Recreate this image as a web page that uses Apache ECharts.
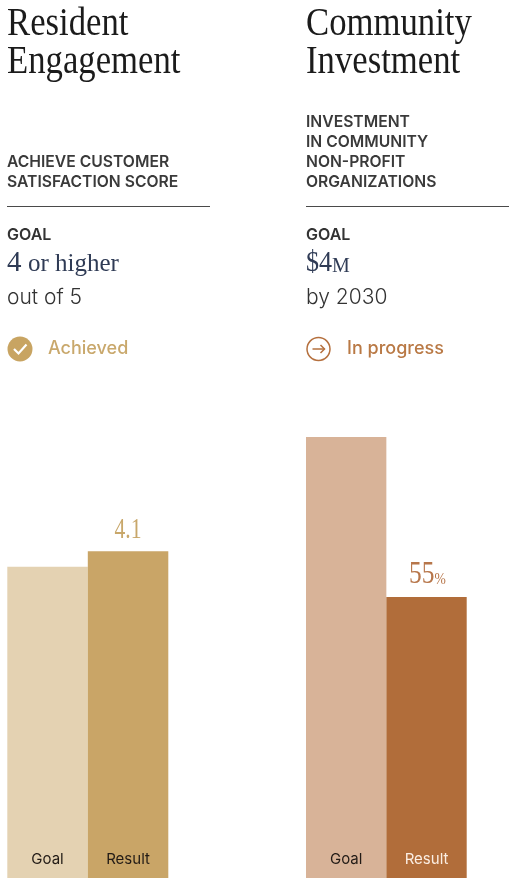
<!DOCTYPE html>
<html>
<head>
<meta charset="utf-8">
<script src="https://cdn.jsdelivr.net/npm/echarts@6/dist/echarts.min.js"></script>
<style>
html,body{margin:0;padding:0;background:#ffffff;}
#chart{width:520px;height:891px;}
</style>
</head>
<body>
<div id="chart"></div>
<script>
// ---- data ----
const categories = ['Goal', 'Result'];
const engagementValues = [4, 4.1];      // customer satisfaction score (out of 5)
const investmentValues = [100, 55];     // % of the $4M goal invested

// ---- styles ----
const SERIF = "'Liberation Serif', 'Times New Roman', serif";
const SANS = "Inter, 'Liberation Sans', Arial, sans-serif";
const engagementColors = ['#e4d2b2', '#c9a567'];
const investmentColors = ['#d8b398', '#b16d3a'];
const engagementCatText = ['#221b16', '#221b16'];
const investmentCatText = ['#221b16', '#fbeee3'];

const chart = echarts.init(document.getElementById('chart'), null, { renderer: 'canvas' });

function txt(x, y, text, font, fill, extra) {
  return Object.assign({
    type: 'text', x: x, y: y, silent: true,
    style: {
      text: text, x: 0, y: 0, font: font, fill: fill,
      align: 'left', verticalAlign: 'middle', textAlign: 'left', textVerticalAlign: 'middle'
    }
  }, extra || {});
}

function makeRenderer(yMin, colors, catColors, valueParts) {
  return function (params, api) {
    const idx = api.value(0);
    const val = api.value(1);
    const top = api.coord([idx, val]);
    const base = api.coord([idx, yMin]);
    const w = api.size([1, 0])[0];
    const cx = top[0];
    const children = [
      { type: 'rect', shape: { x: cx - w / 2, y: top[1], width: w, height: base[1] - top[1] },
        style: { fill: colors[idx] } },
      { type: 'text', x: cx, y: base[1] - 18.5,
        style: { text: categories[idx], x: 0, y: 0, font: '400 15px ' + SANS, fill: catColors[idx],
          align: 'center', verticalAlign: 'middle', textAlign: 'center', textVerticalAlign: 'middle' } }
    ];
    if (idx === 1) {
      valueParts(val, cx, top[1]).forEach(function (c) { children.push(c); });
    }
    return { type: 'group', children: children };
  };
}

function engagementLabel(val, cx, topY) {
  return [{ type: 'text', x: cx, y: topY - 21, scaleX: 0.72,
    style: { text: String(val), x: 0, y: 0, font: '30px ' + SERIF, fill: '#c8a76a',
      align: 'center', verticalAlign: 'middle', textAlign: 'center', textVerticalAlign: 'middle' } }];
}
function investmentLabel(val, cx, topY) {
  return [
    { type: 'text', x: cx + 8, y: topY - 22.5, scaleX: 0.82,
      style: { text: String(val), x: 0, y: 0, font: '31px ' + SERIF, fill: '#b7764a',
        align: 'right', verticalAlign: 'middle', textAlign: 'right', textVerticalAlign: 'middle' } },
    { type: 'text', x: cx + 8, y: topY - 17.7, scaleX: 0.8,
      style: { text: '%', x: 0, y: 0, font: '17px ' + SERIF, fill: '#b7764a',
        align: 'left', verticalAlign: 'middle', textAlign: 'left', textVerticalAlign: 'middle' } }
  ];
}

const ENG_MIN = 2, ENG_MAX = 4.5;
const INV_MIN = -24, INV_MAX = 110;

const graphics = [
  // titles
  txt(7, 25, 'Resident', '39px ' + SERIF, '#1b1b1b', { scaleX: 0.89 }),
  txt(7, 63, 'Engagement', '39px ' + SERIF, '#1b1b1b', { scaleX: 0.89 }),
  txt(306, 25, 'Community', '39px ' + SERIF, '#1b1b1b', { scaleX: 0.89 }),
  txt(306, 63, 'Investment', '39px ' + SERIF, '#1b1b1b', { scaleX: 0.89 }),
  // subtitles
  txt(7, 162.5, 'ACHIEVE CUSTOMER', '600 16px ' + SANS, '#3a3a3a', { scaleX: 0.98 }),
  txt(7, 182.5, 'SATISFACTION SCORE', '600 16px ' + SANS, '#3a3a3a', { scaleX: 0.98 }),
  txt(306, 122.5, 'INVESTMENT', '600 16px ' + SANS, '#3a3a3a', { scaleX: 0.98 }),
  txt(306, 142.5, 'IN COMMUNITY', '600 16px ' + SANS, '#3a3a3a', { scaleX: 0.98 }),
  txt(306, 162.5, 'NON-PROFIT', '600 16px ' + SANS, '#3a3a3a', { scaleX: 0.98 }),
  txt(306, 182.5, 'ORGANIZATIONS', '600 16px ' + SANS, '#3a3a3a', { scaleX: 0.98 }),
  // dividers
  { type: 'line', silent: true, shape: { x1: 7, y1: 206.5, x2: 210, y2: 206.5 }, style: { stroke: '#4a4a4a', lineWidth: 1 } },
  { type: 'line', silent: true, shape: { x1: 306, y1: 206.5, x2: 509, y2: 206.5 }, style: { stroke: '#4a4a4a', lineWidth: 1 } },
  // goal blocks
  txt(7, 235.5, 'GOAL', '600 16px ' + SANS, '#333333'),
  txt(7, 263.2, '4', '29px ' + SERIF, '#2f3b55'),
  txt(28, 264.6, 'or higher', '25px ' + SERIF, '#2f3b55'),
  txt(7, 298, 'out of 5', '300 21px ' + SANS, '#333333'),
  txt(306, 235.5, 'GOAL', '600 16px ' + SANS, '#333333'),
  txt(306, 263.2, '$4', '29px ' + SERIF, '#2f3b55', { scaleX: 0.9 }),
  txt(332, 266.3, 'M', '20px ' + SERIF, '#2f3b55'),
  txt(306, 298, 'by 2030', '300 21px ' + SANS, '#333333'),
  // status: achieved
  { type: 'circle', silent: true, shape: { cx: 20, cy: 349, r: 12.5 }, style: { fill: '#c8a462' } },
  { type: 'polyline', silent: true, shape: { points: [[14, 349], [18.5, 353.5], [26.5, 344.5]] },
    style: { stroke: '#ffffff', fill: null, lineWidth: 2.2 } },
  txt(48, 349, 'Achieved', '500 18px ' + SANS, '#c9a86c'),
  // status: in progress
  { type: 'circle', silent: true, shape: { cx: 318.5, cy: 349, r: 11.5 }, style: { fill: 'none', stroke: '#b5703e', lineWidth: 1.5 } },
  { type: 'line', silent: true, shape: { x1: 312.5, y1: 349, x2: 324.5, y2: 349 }, style: { stroke: '#b5703e', lineWidth: 1.5 } },
  { type: 'polyline', silent: true, shape: { points: [[320.5, 345], [324.5, 349], [320.5, 353]] },
    style: { stroke: '#b5703e', fill: null, lineWidth: 1.5 } },
  txt(347, 349, 'In progress', '500 18px ' + SANS, '#b97945')
];

const option = {
  backgroundColor: '#ffffff',
  animation: false,
  grid: [
    { left: 7.3, width: 161, top: 489, height: 389, containLabel: false },
    { left: 306, width: 160.7, top: 401.4, height: 476.6, containLabel: false }
  ],
  xAxis: [
    { type: 'category', gridIndex: 0, data: categories, show: false },
    { type: 'category', gridIndex: 1, data: categories, show: false }
  ],
  yAxis: [
    { type: 'value', gridIndex: 0, min: ENG_MIN, max: ENG_MAX, show: false },
    { type: 'value', gridIndex: 1, min: INV_MIN, max: INV_MAX, show: false }
  ],
  graphic: { elements: graphics },
  series: [
    {
      type: 'custom', xAxisIndex: 0, yAxisIndex: 0, silent: true,
      encode: { x: 0, y: 1 },
      data: engagementValues.map(function (v, i) { return [i, v]; }),
      renderItem: makeRenderer(ENG_MIN, engagementColors, engagementCatText, engagementLabel)
    },
    {
      type: 'custom', xAxisIndex: 1, yAxisIndex: 1, silent: true,
      encode: { x: 0, y: 1 },
      data: investmentValues.map(function (v, i) { return [i, v]; }),
      renderItem: makeRenderer(INV_MIN, investmentColors, investmentCatText, investmentLabel)
    }
  ]
};
chart.setOption(option);
</script>
</body>
</html>
